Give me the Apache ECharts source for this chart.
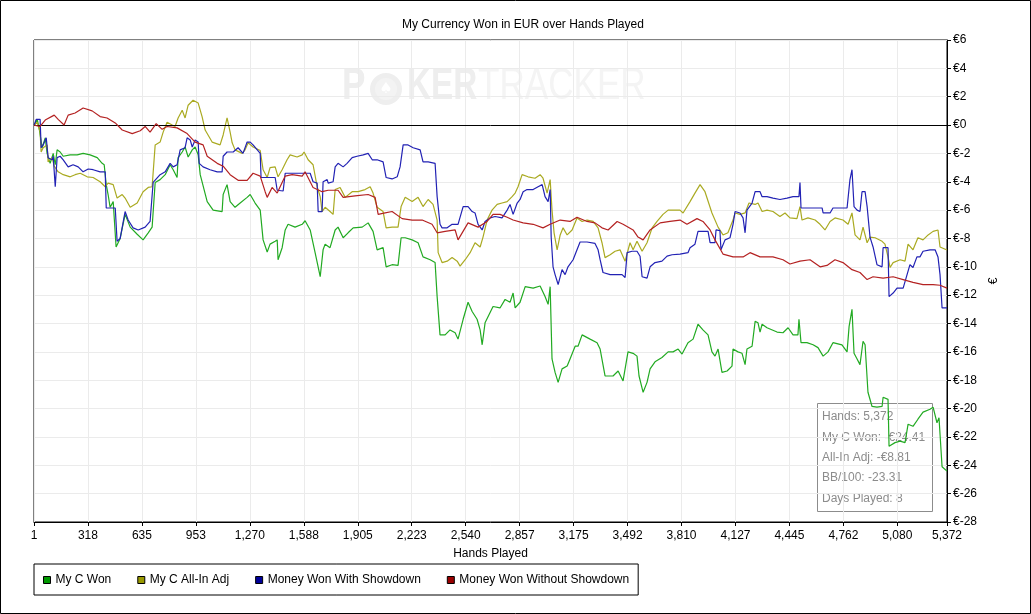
<!DOCTYPE html>
<html>
<head>
<meta charset="utf-8">
<script src="https://cdn.jsdelivr.net/npm/echarts@6.0.0/dist/echarts.min.js"></script>
<style>
  html, body { margin: 0; padding: 0; background: #fff; }
  #chart { width: 1031px; height: 614px; }
</style>
</head>
<body>
<div id="chart"></div>
<script>
// x axis tick labels (hands), one every 317.5 hands
const xLabels = ['1', '318', '635', '953', '1,270', '1,588', '1,905', '2,223', '2,540',
    '2,857', '3,175', '3,492', '3,810', '4,127', '4,445', '4,762', '5,080', '5,372'];

// [hands, EUR]
const myCWon = [[1,0],[19,0.4],[30,-0.2],[48,-1.6],[66,-0.9],[77,-2.0],[95,-2.7],[113,-2.0],[125,-2.8],[136,-1.75],[154,-1.9],[172,-2.2],[213,-2.1],[254,-2.1],[289,-2.0],[330,-2.1],[372,-2.3],[401,-2.7],[413,-2.8],[425,-4.2],[436,-4.9],[448,-5.8],[466,-5.4],[483,-8.6],[507,-8.0],[536,-6.3],[566,-7.2],[607,-7.7],[642,-8.1],[672,-7.6],[695,-7.2],[713,-4.05],[742,-3.85],[772,-3.5],[801,-2.8],[819,-3.15],[842,-3.7],[848,-2.3],[872,-1.9],[889,-1.55],[907,-2.25],[931,-1.75],[948,-1.55],[966,-2.1],[978,-3.5],[1019,-5.4],[1054,-6.0],[1107,-6.1],[1113,-4.9],[1136,-4.2],[1154,-5.4],[1183,-5.8],[1213,-5.5],[1254,-5.1],[1272,-4.9],[1301,-5.5],[1331,-6.0],[1348,-8.1],[1372,-8.95],[1389,-8.4],[1419,-8.2],[1431,-8.1],[1436,-9.5],[1460,-8.65],[1478,-7.4],[1495,-7.0],[1536,-7.2],[1578,-7.0],[1595,-6.75],[1625,-7.4],[1654,-9.0],[1684,-10.7],[1701,-8.8],[1713,-8.4],[1742,-8.65],[1772,-7.4],[1789,-7.2],[1819,-7.95],[1848,-7.6],[1878,-7.25],[1931,-7.2],[1966,-6.9],[1995,-7.5],[2019,-8.8],[2054,-8.65],[2072,-10.0],[2107,-9.85],[2142,-9.9],[2160,-7.95],[2184,-7.95],[2225,-8.1],[2260,-8.3],[2289,-9.3],[2331,-9.5],[2360,-9.7],[2372,-12.1],[2389,-14.8],[2419,-14.8],[2448,-14.45],[2478,-14.65],[2495,-15.1],[2525,-13.7],[2554,-12.5],[2578,-13.15],[2607,-13.7],[2625,-14.45],[2637,-15.5],[2654,-13.95],[2701,-12.8],[2742,-12.9],[2772,-12.3],[2801,-12.5],[2819,-11.85],[2831,-12.9],[2860,-12.5],[2890,-11.4],[2937,-11.5],[2978,-11.35],[3007,-12.1],[3025,-12.65],[3037,-11.4],[3048,-16.5],[3066,-17.45],[3084,-18.15],[3107,-17.2],[3137,-17.0],[3154,-16.5],[3184,-15.6],[3201,-15.6],[3225,-14.8],[3272,-15.1],[3313,-15.35],[3331,-15.8],[3360,-17.7],[3407,-17.7],[3437,-17.35],[3466,-18.05],[3495,-16.0],[3525,-16.1],[3548,-16.3],[3560,-17.7],[3584,-18.85],[3607,-18.15],[3625,-17.2],[3654,-16.7],[3695,-16.4],[3731,-16.0],[3760,-16.0],[3790,-15.8],[3813,-16.15],[3848,-15.35],[3878,-15.1],[3907,-14.05],[3936,-14.45],[3966,-14.8],[3989,-16.0],[4007,-16.3],[4025,-15.8],[4048,-17.45],[4078,-17.35],[4107,-17.0],[4113,-15.8],[4142,-16.0],[4166,-16.1],[4184,-16.9],[4195,-15.8],[4225,-15.6],[4243,-13.85],[4260,-13.95],[4272,-14.6],[4284,-14.05],[4313,-14.3],[4372,-14.6],[4407,-14.65],[4437,-14.3],[4466,-14.8],[4495,-14.8],[4501,-13.7],[4513,-15.35],[4548,-15.35],[4584,-15.5],[4613,-15.7],[4643,-16.3],[4672,-16.0],[4701,-15.35],[4754,-15.5],[4784,-16.0],[4796,-14.2],[4813,-13.0],[4825,-16.1],[4843,-16.5],[4860,-16.9],[4878,-15.25],[4890,-15.5],[4907,-18.85],[4931,-19.85],[4960,-19.9],[4990,-19.85],[4996,-19.2],[5025,-19.35],[5031,-22.65],[5066,-22.4],[5096,-22.3],[5125,-22.4],[5143,-21.1],[5172,-21.25],[5201,-20.75],[5231,-20.25],[5272,-20.05],[5290,-19.9],[5313,-21.0],[5325,-20.65],[5343,-24.1],[5372,-24.41]];

const myCAllInAdj = [[1,0],[19,0.2],[36,-0.5],[42,-1.9],[54,-1.6],[77,-1.4],[83,-2.6],[107,-2.3],[119,-2.9],[142,-3.3],[172,-3.5],[213,-3.65],[242,-3.5],[272,-3.4],[313,-3.65],[348,-3.7],[389,-4.0],[419,-4.35],[436,-4.1],[466,-4.2],[489,-5.15],[519,-4.9],[536,-5.15],[566,-5.8],[607,-5.5],[642,-4.7],[672,-4.4],[695,-4.35],[713,-1.4],[742,-1.2],[760,-0.5],[783,0.2],[813,0],[830,-0.1],[848,0.5],[872,1.05],[889,0.5],[907,1.4],[936,1.75],[966,1.55],[989,0.6],[1007,-0.35],[1048,-1.2],[1095,-1.4],[1113,-0.7],[1136,0.5],[1154,-0.5],[1166,-1.25],[1183,-1.75],[1225,-2.0],[1242,-1.75],[1260,-1.25],[1289,-1.55],[1331,-1.8],[1348,-3.15],[1372,-3.7],[1389,-3.0],[1419,-2.95],[1436,-3.65],[1460,-3.15],[1489,-2.45],[1507,-2.1],[1548,-2.25],[1578,-2.1],[1589,-1.9],[1613,-2.45],[1642,-2.8],[1666,-4.35],[1684,-5.05],[1695,-6.1],[1713,-5.8],[1742,-6.1],[1760,-6.3],[1772,-4.55],[1801,-4.4],[1831,-5.1],[1872,-4.7],[1907,-4.7],[1948,-4.55],[1978,-4.35],[1995,-4.8],[2019,-5.8],[2054,-6.1],[2072,-7.25],[2107,-7.2],[2142,-7.2],[2160,-5.75],[2184,-5.1],[2225,-5.4],[2260,-5.1],[2289,-5.75],[2319,-5.25],[2348,-5.6],[2372,-6.7],[2378,-9.0],[2401,-9.7],[2431,-9.6],[2460,-9.35],[2490,-9.6],[2507,-9.95],[2537,-9.5],[2566,-9.0],[2595,-8.3],[2625,-8.6],[2642,-7.9],[2666,-6.7],[2695,-6.0],[2725,-5.6],[2754,-5.5],[2784,-5.4],[2813,-5.05],[2831,-4.8],[2848,-4.35],[2872,-3.5],[2907,-3.65],[2948,-3.75],[2978,-3.5],[2995,-3.75],[3019,-4.8],[3037,-3.85],[3048,-6.0],[3060,-7.6],[3078,-8.8],[3096,-7.75],[3113,-7.25],[3137,-7.75],[3166,-7.4],[3195,-6.55],[3225,-6.8],[3254,-6.7],[3290,-6.8],[3319,-7.25],[3342,-8.3],[3360,-9.35],[3390,-9.15],[3419,-8.9],[3448,-8.8],[3478,-9.6],[3507,-8.3],[3525,-8.8],[3548,-8.2],[3578,-8.9],[3607,-8.3],[3637,-7.25],[3666,-6.8],[3701,-6.3],[3731,-6.0],[3760,-6.0],[3801,-6.0],[3819,-6.2],[3860,-5.4],[3889,-4.8],[3919,-4.2],[3948,-4.7],[3989,-6.2],[4025,-7.2],[4054,-7.75],[4083,-7.6],[4113,-6.7],[4125,-6.2],[4154,-6.3],[4184,-6.2],[4207,-5.5],[4243,-5.6],[4260,-5.5],[4284,-6.1],[4313,-6.0],[4348,-6.1],[4389,-6.45],[4419,-6.2],[4448,-6.55],[4489,-6.6],[4507,-5.75],[4519,-6.7],[4554,-6.55],[4596,-6.7],[4625,-7.0],[4654,-7.4],[4684,-6.8],[4713,-6.55],[4760,-6.7],[4790,-7.0],[4813,-6.2],[4831,-7.75],[4860,-8.1],[4878,-7.2],[4902,-8.3],[4919,-7.9],[4949,-7.95],[4990,-8.2],[5007,-8.4],[5025,-9.3],[5037,-10.05],[5055,-9.7],[5096,-9.5],[5125,-9.6],[5143,-8.4],[5172,-8.8],[5201,-7.95],[5231,-8.1],[5261,-7.75],[5290,-7.5],[5319,-7.4],[5331,-8.6],[5372,-8.81]];

const wonWithShowdown = [[1,0],[13,0.4],[36,0.4],[42,-1.6],[54,-1.4],[72,-0.9],[83,-2.3],[107,-2.45],[113,-2.2],[125,-4.35],[136,-2.3],[154,-2.2],[172,-2.45],[201,-2.95],[230,-2.8],[260,-2.95],[289,-3.3],[319,-3.1],[348,-3.15],[389,-3.3],[419,-3.3],[425,-5.85],[460,-5.85],[478,-5.85],[489,-8.2],[507,-8.0],[536,-6.1],[554,-6.7],[583,-7.25],[613,-7.4],[654,-7.2],[683,-6.8],[701,-4.05],[742,-3.5],[772,-3.3],[801,-2.7],[819,-2.95],[842,-2.8],[860,-1.75],[889,-1.6],[901,-0.9],[919,-1.05],[931,-1.55],[948,-1.05],[966,-1.2],[972,-2.7],[995,-2.95],[1036,-3.15],[1078,-3.3],[1107,-3.3],[1113,-2.2],[1136,-1.9],[1172,-1.9],[1201,-1.6],[1230,-2.0],[1254,-1.2],[1272,-1.2],[1289,-1.4],[1331,-2.0],[1336,-3.7],[1378,-3.7],[1419,-3.7],[1431,-4.6],[1466,-4.65],[1478,-3.4],[1519,-3.4],[1578,-3.4],[1625,-3.4],[1642,-4.0],[1666,-4.1],[1672,-6.1],[1695,-6.1],[1701,-4.0],[1725,-3.85],[1731,-4.1],[1760,-4.0],[1772,-2.95],[1789,-2.7],[1819,-2.95],[1842,-2.7],[1872,-2.3],[1901,-2.2],[1937,-2.1],[1966,-2.0],[1990,-2.45],[2019,-2.45],[2054,-2.6],[2072,-3.7],[2107,-3.8],[2137,-3.65],[2154,-2.95],[2172,-1.4],[2201,-1.4],[2231,-1.6],[2272,-1.75],[2289,-2.6],[2319,-2.6],[2360,-2.7],[2372,-5.05],[2389,-7.0],[2401,-7.25],[2431,-7.25],[2460,-7.0],[2495,-7.0],[2525,-5.75],[2554,-5.75],[2578,-6.1],[2595,-6.2],[2613,-7.0],[2637,-7.4],[2654,-6.8],[2684,-6.55],[2713,-6.45],[2754,-6.55],[2784,-6.0],[2801,-5.6],[2819,-6.3],[2843,-5.5],[2860,-5.25],[2878,-4.7],[2901,-4.55],[2937,-4.55],[2966,-4.35],[2990,-4.2],[3007,-5.05],[3025,-5.4],[3037,-4.55],[3043,-7.9],[3054,-10.0],[3066,-10.55],[3084,-11.25],[3107,-10.2],[3125,-10.55],[3142,-10.0],[3172,-9.5],[3195,-8.8],[3213,-8.25],[3254,-8.25],[3301,-8.35],[3319,-8.8],[3331,-9.5],[3348,-10.4],[3390,-10.55],[3431,-10.55],[3460,-10.55],[3478,-10.75],[3490,-9.0],[3519,-8.9],[3548,-8.9],[3566,-9.25],[3578,-10.7],[3607,-10.8],[3625,-10.0],[3654,-9.7],[3695,-9.6],[3725,-9.25],[3754,-9.15],[3801,-9.1],[3848,-9.0],[3860,-8.65],[3889,-8.4],[3907,-7.5],[3948,-7.5],[3966,-7.5],[3978,-8.3],[4007,-8.3],[4013,-7.4],[4036,-7.45],[4042,-8.8],[4066,-8.1],[4095,-7.95],[4113,-7.0],[4125,-6.1],[4154,-6.2],[4172,-6.55],[4184,-7.6],[4195,-6.0],[4225,-5.5],[4243,-4.7],[4272,-4.7],[4284,-5.05],[4313,-5.05],[4348,-5.15],[4389,-5.25],[4431,-5.15],[4466,-5.05],[4501,-5.05],[4507,-4.05],[4513,-5.85],[4548,-5.85],[4596,-5.85],[4637,-5.85],[4643,-6.2],[4684,-6.2],[4701,-5.85],[4743,-5.85],[4784,-5.85],[4801,-3.85],[4813,-3.15],[4825,-5.75],[4843,-6.0],[4860,-6.1],[4872,-4.7],[4890,-4.7],[4902,-5.75],[4919,-7.9],[4937,-8.6],[4960,-9.85],[4990,-10.0],[4996,-8.65],[5025,-8.65],[5031,-12.1],[5055,-11.85],[5078,-11.5],[5114,-11.5],[5137,-10.55],[5154,-9.85],[5172,-10.05],[5195,-9.3],[5213,-9.3],[5231,-8.9],[5272,-8.8],[5302,-8.8],[5319,-9.3],[5331,-10.55],[5343,-12.9],[5372,-12.9]];

const wonWithoutShowdown = [[1,0],[36,-0.1],[66,0.35],[119,0.7],[142,0.4],[177,0],[201,0.7],[242,0.85],[289,1.2],[342,1.0],[389,0.6],[430,0.5],[478,0.15],[519,-0.35],[578,-0.6],[625,-0.4],[654,-0.1],[683,-0.5],[719,0.1],[754,-0.3],[783,-0.1],[842,-0.2],[901,-0.6],[948,-1.2],[995,-1.4],[1019,-2.2],[1078,-2.7],[1113,-2.9],[1154,-3.5],[1201,-3.9],[1254,-3.9],[1289,-3.4],[1331,-3.6],[1360,-4.7],[1372,-5.1],[1401,-4.4],[1431,-4.8],[1478,-3.6],[1519,-3.5],[1578,-3.6],[1595,-3.3],[1642,-4.4],[1695,-4.7],[1731,-4.6],[1789,-4.6],[1819,-5.1],[1889,-5.0],[1966,-4.9],[2007,-5.1],[2025,-6.3],[2066,-6.2],[2107,-6.1],[2166,-6.6],[2225,-6.7],[2284,-6.7],[2342,-7.0],[2372,-7.6],[2419,-7.5],[2478,-7.4],[2495,-8.1],[2554,-6.9],[2613,-7.2],[2666,-6.8],[2701,-6.3],[2742,-6.3],[2784,-6.5],[2819,-6.7],[2878,-6.9],[2937,-7.0],[2995,-7.25],[3037,-7.0],[3096,-6.7],[3154,-6.8],[3195,-6.5],[3254,-6.8],[3301,-6.9],[3342,-7.25],[3378,-7.4],[3431,-6.8],[3466,-7.0],[3525,-7.4],[3554,-7.9],[3584,-8.1],[3625,-7.4],[3684,-6.9],[3742,-6.8],[3801,-6.7],[3842,-7.0],[3901,-6.6],[3936,-6.8],[3978,-7.4],[4007,-8.1],[4054,-9.1],[4113,-9.3],[4172,-9.3],[4213,-9.0],[4272,-9.3],[4348,-9.3],[4407,-9.5],[4448,-9.8],[4507,-9.6],[4566,-9.5],[4625,-10.0],[4666,-9.9],[4713,-9.5],[4760,-9.7],[4813,-10.2],[4860,-10.4],[4902,-10.9],[4937,-10.7],[4996,-10.8],[5055,-10.7],[5114,-10.9],[5172,-11.1],[5231,-11.25],[5290,-11.25],[5331,-11.3],[5372,-11.5]];

const seriesNames = ['My C Won', 'My C All-In Adj', 'Money Won With Showdown', 'Money Won Without Showdown'];
const lineColors = ['#22aa22', '#aaaa22', '#2222b4', '#b42222'];
const legendColors = ['#009900', '#999900', '#000099', '#990000'];

const summary = ['Hands: 5,372', 'My C Won: -€24.41', 'All-In Adj: -€8.81', 'BB/100: -23.31', 'Days Played: 8'];

const font = '"Liberation Sans", Arial, sans-serif';
const chart = echarts.init(document.getElementById('chart'));

const dataSets = [myCWon, myCAllInAdj, wonWithShowdown, wonWithoutShowdown];

// faint watermark behind the plot
const markPoker = '#eeeeee', markTracker = '#f4f4f4';
const watermark = {
    type: 'group', left: 342, top: 64, z: -10, silent: true,
    children: [
        { type: 'text', x: 0, y: 0, scaleX: 0.78,
          style: { text: 'P', font: 'bold 45px ' + font, fill: markPoker } },
        { type: 'circle', shape: { cx: 44, cy: 25, r: 16 }, style: { fill: markPoker } },
        { type: 'circle', shape: { cx: 44, cy: 25, r: 11 }, style: { fill: '#f3f3f3' } },
        { type: 'text', x: 44, y: 25,
          style: { text: '♠', font: '15px "DejaVu Sans"', fill: '#ffffff', align: 'center', verticalAlign: 'middle' } },
        { type: 'text', x: 65, y: 0, scaleX: 0.74,
          style: { text: 'KER', font: 'bold 45px ' + font, fill: markPoker } },
        { type: 'text', x: 136, y: 0, scaleX: 0.78,
          style: { text: 'TRACKER', font: '45px ' + font, fill: markTracker } }
    ]
};

const option = {
    animation: false,
    textStyle: { fontFamily: font },
    title: {
        text: 'My Currency Won in EUR over Hands Played',
        left: 397,
        top: 14,
        textStyle: { fontSize: 12, fontWeight: 'normal', color: '#000', fontFamily: font }
    },
    grid: {
        left: 34, right: 84, top: 40, bottom: 92,
        show: true, borderColor: '#000', borderWidth: 1
    },
    legend: {
        left: 34, top: 564,
        padding: [10, 9, 9, 9],
        borderColor: '#000', borderWidth: 1,
        icon: 'rect', itemWidth: 7, itemHeight: 7, itemGap: 26,
        textStyle: { fontSize: 12, color: '#000', fontFamily: font },
        data: seriesNames.map((n, i) => ({
            name: n,
            itemStyle: { color: legendColors[i], borderColor: '#000', borderWidth: 1 }
        }))
    },
    xAxis: {
        type: 'value',
        min: 0, max: 5372, interval: 317.5,
        name: 'Hands Played', nameLocation: 'middle', nameGap: 26,
        nameTextStyle: { fontSize: 12, color: '#000' },
        axisLine: { onZero: false, lineStyle: { color: '#000', width: 1 } },
        axisTick: { length: 4, lineStyle: { color: '#000' } },
        axisLabel: {
            fontSize: 12, color: '#000', margin: 8,
            showMinLabel: true, showMaxLabel: true,
            formatter: v => xLabels[Math.round(v / 317.5)] || ''
        },
        splitLine: { show: true, lineStyle: { color: '#ebebeb', width: 1 } }
    },
    yAxis: {
        type: 'value', position: 'right',
        min: -28, max: 6, interval: 2,
        name: '€', nameLocation: 'middle', nameRotate: 90, nameGap: 40,
        nameTextStyle: { fontSize: 12, color: '#000' },
        axisLine: { show: true, onZero: false, lineStyle: { color: '#000', width: 1 } },
        axisTick: { show: true, length: 4, lineStyle: { color: '#000' } },
        axisLabel: { fontSize: 12, color: '#000', margin: 6, formatter: v => '€' + v },
        splitLine: { show: true, lineStyle: { color: '#ebebeb', width: 1 } }
    },
    graphic: [
        {
            type: 'rect', z: 200, silent: true,
            shape: { x: 0.5, y: 0.5, width: 1030, height: 613 },
            style: { fill: 'none', stroke: '#000', lineWidth: 1 }
        },
        watermark,
        {
            type: 'group', left: 817, top: 403, z: 100, silent: true,
            children: [
                { type: 'rect', shape: { x: 0.5, y: 0.5, width: 115, height: 108 },
                  style: { fill: 'rgba(255,255,255,0.55)', stroke: '#8c8c8c', lineWidth: 1 } }
            ].concat(summary.map((t, i) => ({
                type: 'text', x: 5, y: 8 + i * 20.3,
                style: { text: t, font: '12px ' + font, fill: '#8c8c8c' }
            })))
        }
    ],
    series: dataSets.map((d, i) => ({
        name: seriesNames[i],
        type: 'line',
        data: d,
        symbol: 'none',
        z: 3 + i,
        itemStyle: { color: lineColors[i] },
        lineStyle: { color: lineColors[i], width: 1.2 },
        markLine: i === 3 ? {
            silent: true, symbol: 'none', label: { show: false },
            lineStyle: { color: '#000', type: 'solid', width: 1 },
            data: [{ yAxis: 0 }]
        } : undefined
    }))
};

chart.setOption(option);
</script>
</body>
</html>
